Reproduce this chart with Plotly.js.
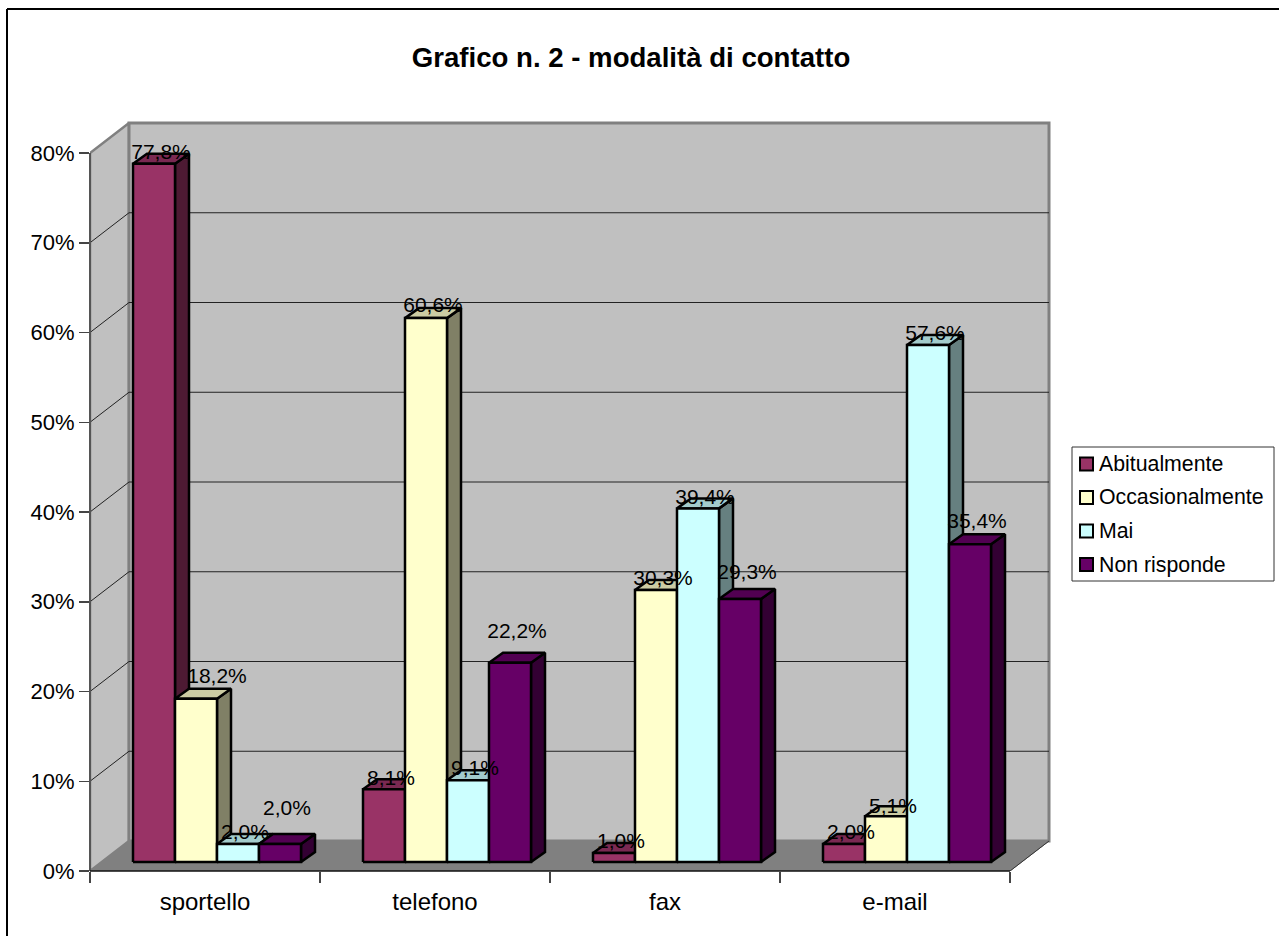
<!DOCTYPE html>
<html>
<head>
<meta charset="utf-8">
<title>Grafico n. 2 - modalità di contatto</title>
<script src="https://cdn.plot.ly/plotly-3.0.1.min.js"></script>
<style>html,body{margin:0;padding:0;background:#fff;overflow:hidden}#chart{width:1279px;height:936px}</style>
</head>
<body>
<div id="chart"></div>
<script>
// Contact channels and answer shares, in percent
const categories = ['sportello', 'telefono', 'fax', 'e-mail'];
const seriesNames = ['Abitualmente', 'Occasionalmente', 'Mai', 'Non risponde'];
const abitualmente = [77.8, 8.1, 1.0, 2.0];
const occasionalmente = [18.2, 60.6, 30.3, 5.1];
const mai = [2.0, 9.1, 39.4, 57.6];
const nonRisponde = [2.0, 22.2, 29.3, 35.4];
const seriesValues = [abitualmente, occasionalmente, mai, nonRisponde];
const yTicks = [0, 10, 20, 30, 40, 50, 60, 70, 80];

// Face colours per series: front, top, side
const faceColors = [
  ['#993366', '#7a2952', '#4d1a33'],
  ['#ffffcc', '#cccca3', '#808066'],
  ['#ccffff', '#a3cccc', '#668080'],
  ['#660066', '#520052', '#330033']
];

// Page geometry in pixels; the plot area leaves a little room around the back wall
const W = 1279, H = 936;
const plotL = 90, plotB = 871, plotR = 1056, plotT = 117;
const pxPerCat = 230, pxPerPct = 8.975;
const ux = p => p / pxPerCat;            // horizontal pixels to category units
const uy = p => p / pxPerPct;            // vertical pixels to percent units
const px = p => (p - plotL) / (plotR - plotL);   // page x to paper
const py = p => (plotB - p) / (plotB - plotT);   // page y to paper

const FONT = 'Liberation Sans, Arial, sans-serif';
const wallDX = ux(39), wallDY = uy(30);  // depth of the floor
const barDX = ux(14), barDY = uy(10);    // depth of each column
const baseX = ux(43), baseY = uy(9);     // column footprint inside a category
const barW = ux(42);

const traces = [];
function poly(xs, ys, fill, lineColor, lineWidth) {
  traces.push({
    type: 'scatter', mode: 'lines', x: xs.concat(xs[0]), y: ys.concat(ys[0]),
    fill: 'toself', fillcolor: fill, line: {color: lineColor, width: lineWidth, simplify: false},
    hoverinfo: 'skip', showlegend: false, cliponaxis: false
  });
}
function seg(xs, ys, color, width) {
  traces.push({
    type: 'scatter', mode: 'lines', x: xs, y: ys, line: {color: color, width: width},
    hoverinfo: 'skip', showlegend: false, cliponaxis: false
  });
}

// Walls and floor
const nCat = categories.length;
const yMax = yTicks[yTicks.length - 1];
poly([0, wallDX, wallDX, 0], [0, wallDY, yMax + wallDY, yMax], '#c0c0c0', '#808080', 2.5);
poly([wallDX, nCat + wallDX, nCat + wallDX, wallDX], [wallDY, wallDY, yMax + wallDY, yMax + wallDY], '#c0c0c0', '#808080', 3);
poly([0, nCat, nCat + wallDX, wallDX], [0, 0, wallDY, wallDY], '#808080', '#808080', 1);

// Gridlines running along both walls
yTicks.slice(1, -1).forEach(v => {
  seg([0, wallDX, nCat + wallDX], [v, v + wallDY, v + wallDY], '#222222', 1);
});
seg([nCat, nCat + wallDX], [0, wallDY], '#333333', 1);

// Columns, drawn left to right so each one covers the side of the previous
categories.forEach((c, i) => {
  seriesValues.forEach((vals, s) => {
    const x0 = i + baseX + s * barW, x1 = x0 + barW;
    const y0 = baseY, y1 = baseY + vals[i];
    const col = faceColors[s];
    poly([x1, x1 + barDX, x1 + barDX, x1], [y0, y0 + barDY, y1 + barDY, y1], col[2], '#000', 2.5);
    poly([x0, x1, x1 + barDX, x0 + barDX], [y1, y1, y1 + barDY, y1 + barDY], col[1], '#000', 2.5);
    poly([x0, x1, x1, x0], [y0, y0, y1, y1], col[0], '#000', 2.5);
  });
});

// Value labels; some sit higher above their column
const labelLift = [
  [11, 22, 11, 35],
  [11, 12, 12, 31],
  [11, 11, 11, 26],
  [11, 9, 11, 23]
];
const labelNudge = [
  [0, 14, 0, 0],
  [0, 0, 0, 0],
  [0, 0, 0, 0],
  [0, 0, 0, 0]
];
const labelX = [], labelY = [], labelText = [];
categories.forEach((c, i) => {
  seriesValues.forEach((vals, s) => {
    labelX.push(i + baseX + (s + 0.5) * barW + ux(7 + labelNudge[i][s]));
    labelY.push(baseY + vals[i] + uy(labelLift[i][s] - 1));
    labelText.push(vals[i].toFixed(1).replace('.', ',') + '%');
  });
});
traces.push({
  type: 'scatter', mode: 'text', x: labelX, y: labelY, text: labelText,
  textposition: 'middle center', textfont: {family: FONT, size: 21, color: '#000'},
  hoverinfo: 'skip', showlegend: false, cliponaxis: false, xaxis: 'x2', yaxis: 'y'
});

// Outer frame, axis lines, legend box, swatches and entries
const shapes = [
  {type: 'line', xref: 'paper', yref: 'paper', x0: px(7), x1: px(W), y0: py(9), y1: py(9), line: {color: '#000', width: 2}},
  {type: 'line', xref: 'paper', yref: 'paper', x0: px(7), x1: px(7), y0: py(9), y1: py(H), line: {color: '#000', width: 2}},
  {type: 'line', xref: 'paper', yref: 'paper', x0: px(90), x1: px(90), y0: py(153), y1: py(871), line: {color: '#555', width: 2}},
  {type: 'line', xref: 'paper', yref: 'paper', x0: px(90), x1: px(1010), y0: py(871), y1: py(871), line: {color: '#111', width: 1.5}},
  {type: 'rect', xref: 'paper', yref: 'paper', x0: px(1072), x1: px(1274), y0: py(447), y1: py(581), fillcolor: '#fff', line: {color: '#333', width: 1}}
];
const annotations = [];
seriesNames.forEach((name, s) => {
  const cy = 464 + s * 33.5;
  shapes.push({type: 'rect', xref: 'paper', yref: 'paper', x0: px(1080), x1: px(1093), y0: py(cy - 6.5), y1: py(cy + 6.5),
    fillcolor: faceColors[s][0], line: {color: '#000', width: 2}});
  annotations.push({xref: 'paper', yref: 'paper', x: px(1099), y: py(cy), xanchor: 'left', yanchor: 'middle', showarrow: false,
    text: name, font: {family: FONT, size: 21.3, color: '#000'}, borderpad: 0, borderwidth: 0});
});

const layout = {
  width: W, height: H, autosize: false,
  paper_bgcolor: '#fff', plot_bgcolor: 'rgba(0,0,0,0)',
  showlegend: false,
  margin: {l: plotL, r: W - plotR, t: plotT, b: H - plotB, pad: 0},
  title: {
    text: 'Grafico n. 2 - modalità di contatto',
    font: {family: FONT, size: 27.6, color: '#000', weight: 'bold'},
    xref: 'container', yref: 'container', x: 631 / W, y: 1 - 57 / H, xanchor: 'center', yanchor: 'middle'
  },
  xaxis: {
    range: [0, (plotR - plotL) / pxPerCat], tickmode: 'array',
    tickvals: categories.map((c, i) => i).concat(nCat), ticktext: categories.map(() => '').concat(''),
    ticks: 'outside', ticklen: 11, tickwidth: 1.5, tickcolor: '#444',
    showgrid: false, zeroline: false, showline: false, fixedrange: true
  },
  xaxis2: {
    overlaying: 'x', anchor: 'y', side: 'bottom',
    range: [0, (plotR - plotL) / pxPerCat], tickmode: 'array',
    tickvals: categories.map((c, i) => i + 0.5), ticktext: categories,
    ticks: '', ticklabelstandoff: 14, tickfont: {family: FONT, size: 24, color: '#000'},
    showgrid: false, zeroline: false, showline: false, fixedrange: true
  },
  yaxis: {
    range: [0, (plotB - plotT) / pxPerPct], tickmode: 'array',
    tickvals: yTicks, ticktext: yTicks.map(v => v + '%'),
    ticks: 'outside', ticklen: 10, tickwidth: 1.5, tickcolor: '#444',
    tickfont: {family: FONT, size: 22, color: '#000'},
    showgrid: false, zeroline: false, showline: false, fixedrange: true
  },
  shapes: shapes,
  annotations: annotations
};

Plotly.newPlot('chart', traces, layout, {displayModeBar: false, staticPlot: true});
</script>
</body>
</html>
